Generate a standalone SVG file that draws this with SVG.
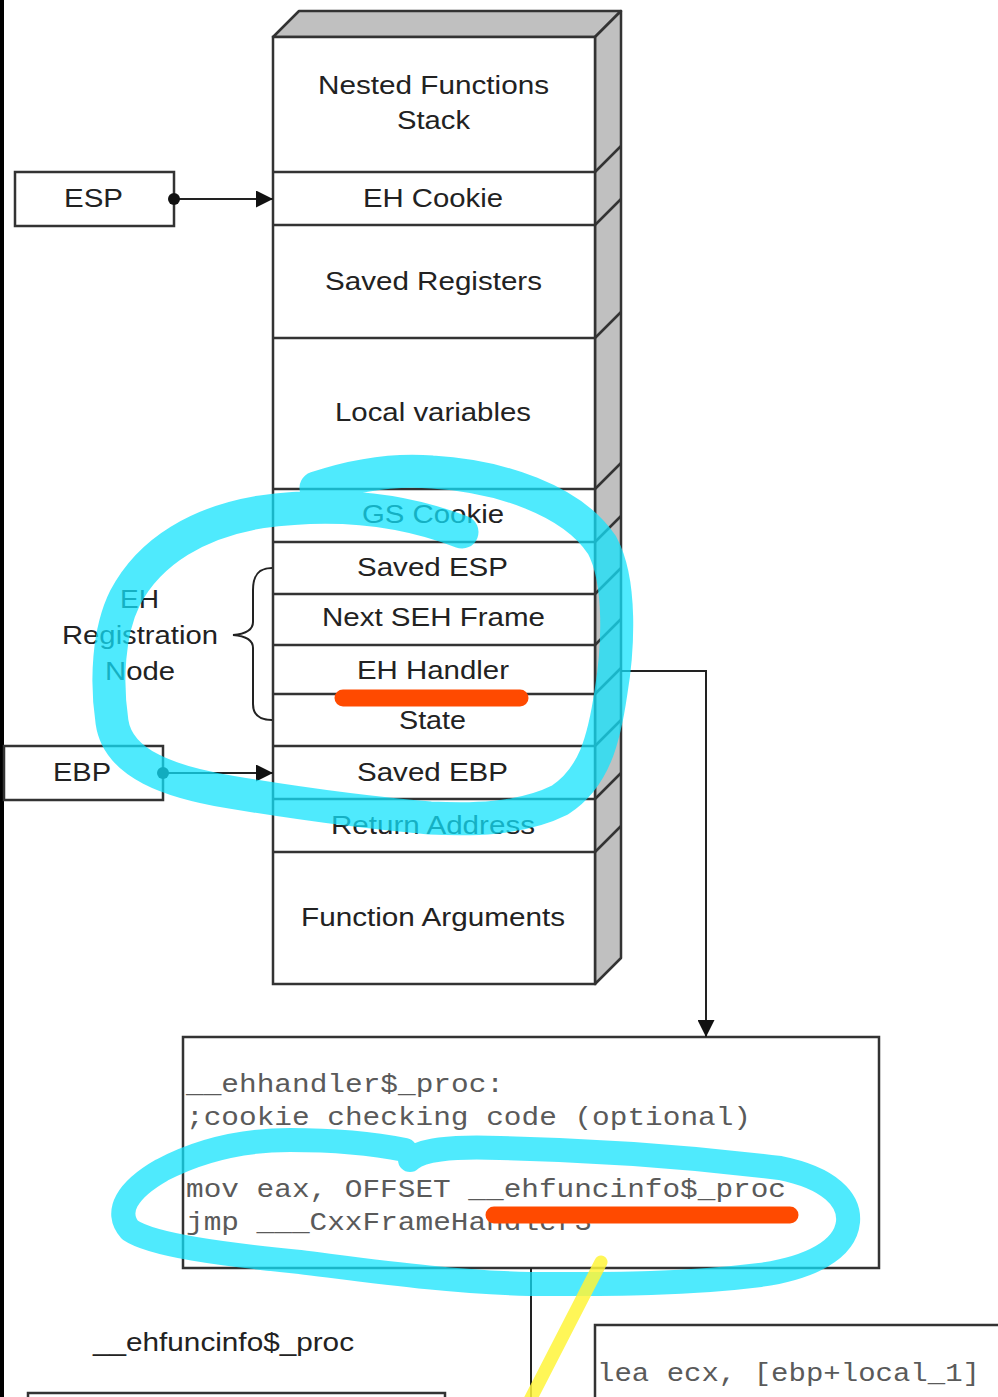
<svg xmlns="http://www.w3.org/2000/svg" width="998" height="1397" viewBox="0 0 998 1397">
  <defs>
    <style>
      .frame { fill: #ffffff; stroke: #333333; stroke-width: 2.5; }
      .side { fill: #c0c0c0; stroke: #333333; stroke-width: 2.5; stroke-linejoin: round; }
      .sep { stroke: #333333; stroke-width: 2.5; fill: none; }
      .lbl { font-family: "Liberation Sans", Arial, sans-serif; font-size: 25px; fill: #222222; }
      .code { font-family: "Liberation Mono", "Courier New", monospace; font-size: 25px; fill: #5a5a5a; }
      .wire { stroke: #222222; stroke-width: 2; fill: none; }
      .mark-cyan { fill: none; stroke: #12e3fc; stroke-linecap: round; stroke-linejoin: round; }
      .mark-orange { stroke: #ff4a00; stroke-width: 17; stroke-linecap: round; }
    </style>
    <marker id="triBig" viewBox="0 0 10 10" refX="10" refY="5" markerWidth="17" markerHeight="17" markerUnits="userSpaceOnUse" orient="auto">
      <path d="M0,0 L10,5 L0,10 Z" fill="#111111"/>
    </marker>
  </defs>

  <rect width="998" height="1397" fill="#ffffff"/>
  <!-- dark left margin strip -->
  <rect x="0" y="0" width="4" height="1397" fill="#000000"/>

  <!-- 3D stack of frames -->
  <g id="stack">
    <polygon class="side" points="273,37 299,11 621,11 595,37"/>
    <polygon class="side" points="595,37 621,11 621,958 595,984"/>
    <rect class="frame" x="273" y="37" width="322" height="947"/>
    <g class="sep">
      <line x1="273" y1="172" x2="595" y2="172"/><line x1="595" y1="172" x2="621" y2="146"/>
      <line x1="273" y1="225" x2="595" y2="225"/><line x1="595" y1="225" x2="621" y2="199"/>
      <line x1="273" y1="338" x2="595" y2="338"/><line x1="595" y1="338" x2="621" y2="312"/>
      <line x1="273" y1="489" x2="595" y2="489"/><line x1="595" y1="489" x2="621" y2="463"/>
      <line x1="273" y1="542" x2="595" y2="542"/><line x1="595" y1="542" x2="621" y2="516"/>
      <line x1="273" y1="594" x2="595" y2="594"/><line x1="595" y1="594" x2="621" y2="568"/>
      <line x1="273" y1="645" x2="595" y2="645"/><line x1="595" y1="645" x2="621" y2="619"/>
      <line x1="273" y1="694" x2="595" y2="694"/><line x1="595" y1="694" x2="621" y2="668"/>
      <line x1="273" y1="746" x2="595" y2="746"/><line x1="595" y1="746" x2="621" y2="720"/>
      <line x1="273" y1="799" x2="595" y2="799"/><line x1="595" y1="799" x2="621" y2="773"/>
      <line x1="273" y1="852" x2="595" y2="852"/><line x1="595" y1="852" x2="621" y2="826"/>
    </g>
    <g id="frame-nested"><text class="lbl" x="318" y="94" textLength="231" lengthAdjust="spacingAndGlyphs">Nested Functions</text>
      <text class="lbl" x="397" y="129" textLength="73" lengthAdjust="spacingAndGlyphs">Stack</text></g>
    <g id="frame-eh-cookie"><text class="lbl" x="363" y="207" textLength="140" lengthAdjust="spacingAndGlyphs">EH Cookie</text></g>
    <g id="frame-saved-regs"><text class="lbl" x="325" y="290" textLength="217" lengthAdjust="spacingAndGlyphs">Saved Registers</text></g>
    <g id="frame-locals"><text class="lbl" x="335" y="421" textLength="196" lengthAdjust="spacingAndGlyphs">Local variables</text></g>
    <g id="frame-gs-cookie"><text class="lbl" x="362" y="523" textLength="142" lengthAdjust="spacingAndGlyphs">GS Cookie</text></g>
    <g id="frame-saved-esp"><text class="lbl" x="357" y="576" textLength="151" lengthAdjust="spacingAndGlyphs">Saved ESP</text></g>
    <g id="frame-next-seh"><text class="lbl" x="322" y="626" textLength="223" lengthAdjust="spacingAndGlyphs">Next SEH Frame</text></g>
    <g id="frame-eh-handler"><text class="lbl" x="357" y="679" textLength="152" lengthAdjust="spacingAndGlyphs">EH Handler</text></g>
    <g id="frame-state"><text class="lbl" x="399" y="729" textLength="67" lengthAdjust="spacingAndGlyphs">State</text></g>
    <g id="frame-saved-ebp"><text class="lbl" x="357" y="781" textLength="151" lengthAdjust="spacingAndGlyphs">Saved EBP</text></g>
    <g id="frame-ret"><text class="lbl" x="331" y="834" textLength="204" lengthAdjust="spacingAndGlyphs">Return Address</text></g>
    <g id="frame-args"><text class="lbl" x="301" y="926" textLength="264" lengthAdjust="spacingAndGlyphs">Function Arguments</text></g>
  </g>

  <!-- register pointers -->
  <g id="esp">
    <rect class="frame" x="15" y="172" width="159" height="54"/>
    <text class="lbl" x="64" y="207" textLength="59" lengthAdjust="spacingAndGlyphs">ESP</text>
  </g>
  <g id="ebp">
    <rect class="frame" x="4" y="746" width="159" height="54"/>
    <text class="lbl" x="53" y="781" textLength="58" lengthAdjust="spacingAndGlyphs">EBP</text>
  </g>

  <!-- EH registration node brace label -->
  <g id="eh-registration">
    <path class="wire" stroke-width="1.6" d="M272,568 C258,568 253,576 253,590 L253,622 C253,630 245,634 233,635 C245,636 253,640 253,648 L253,704 C253,714 258,720 272,720"/>
    <text class="lbl" x="120" y="608" textLength="39" lengthAdjust="spacingAndGlyphs">EH</text>
    <text class="lbl" x="62" y="644" textLength="156" lengthAdjust="spacingAndGlyphs">Registration</text>
    <text class="lbl" x="105" y="680" textLength="70" lengthAdjust="spacingAndGlyphs">Node</text>
  </g>

  <!-- handler stub code -->
  <g id="ehhandler">
    <rect class="frame" x="183" y="1037" width="696" height="231" stroke-width="2"/>
    <text class="code" x="186" y="1092" textLength="318" lengthAdjust="spacingAndGlyphs">__ehhandler$_proc:</text>
    <text class="code" x="186" y="1125" textLength="565" lengthAdjust="spacingAndGlyphs">;cookie checking code (optional)</text>
    <text class="code" x="186" y="1197" textLength="600" lengthAdjust="spacingAndGlyphs">mov eax, OFFSET __ehfuncinfo$_proc</text>
    <text class="code" x="186" y="1230" textLength="406" lengthAdjust="spacingAndGlyphs">jmp ___CxxFrameHandler3</text>
  </g>

  <g id="ehfuncinfo">
    <text class="lbl" x="93" y="1351" textLength="261" lengthAdjust="spacingAndGlyphs">__ehfuncinfo$_proc</text>
    <rect class="frame" x="28" y="1393" width="417" height="20" stroke-width="2"/>
  </g>

  <g id="funclet">
    <rect class="frame" x="595" y="1325" width="420" height="100" stroke-width="2"/>
    <text class="code" x="597" y="1381" textLength="383" lengthAdjust="spacingAndGlyphs">lea ecx, [ebp+local_1]</text>
  </g>

  <!-- connectors -->
  <g id="connectors">
    <line class="wire" x1="174" y1="199" x2="273" y2="199" marker-end="url(#triBig)"/>
    <circle cx="174" cy="199" r="6" fill="#111111"/>
    <line class="wire" x1="163" y1="773" x2="273" y2="773" marker-end="url(#triBig)"/>
    <circle cx="163" cy="773" r="6" fill="#111111"/>
    <polyline class="wire" points="621,671 706,671 706,1037" marker-end="url(#triBig)"/>
    <line class="wire" x1="531" y1="1268" x2="531" y2="1397"/>
  </g>

  <!-- highlighter marks -->
  <g id="marks">
    <g opacity="0.74">
      <path class="mark-cyan" stroke-width="33" d="M316,488 C355,475 395,469 432,472 C500,476 572,500 602,545 C622,582 618,650 611,692 C604,740 594,778 560,800 C520,820 470,820 430,818 C360,812 290,802 230,792 C170,782 118,764 112,722 C106,682 108,632 125,598 C150,550 200,522 260,512 C330,502 400,508 462,532"/>
      <path class="mark-cyan" stroke-width="24" d="M410,1160 C420,1150 450,1146 500,1148 C600,1150 700,1158 780,1168 C830,1178 850,1200 848,1222 C845,1250 810,1268 760,1275 C680,1285 600,1284 530,1284 C450,1282 380,1272 300,1262 C220,1254 152,1245 130,1230 C114,1212 127,1190 162,1170 C200,1150 240,1140 290,1140 C340,1140 380,1145 405,1150"/>
    </g>
    <line class="mark-orange" x1="343" y1="698" x2="520" y2="698"/>
    <line class="mark-orange" x1="494" y1="1215" x2="790" y2="1215" stroke-width="16"/>
    <line x1="601" y1="1262" x2="529" y2="1402" stroke="#fff53a" stroke-width="13" stroke-linecap="round" opacity="0.85"/>
  </g>
</svg>
